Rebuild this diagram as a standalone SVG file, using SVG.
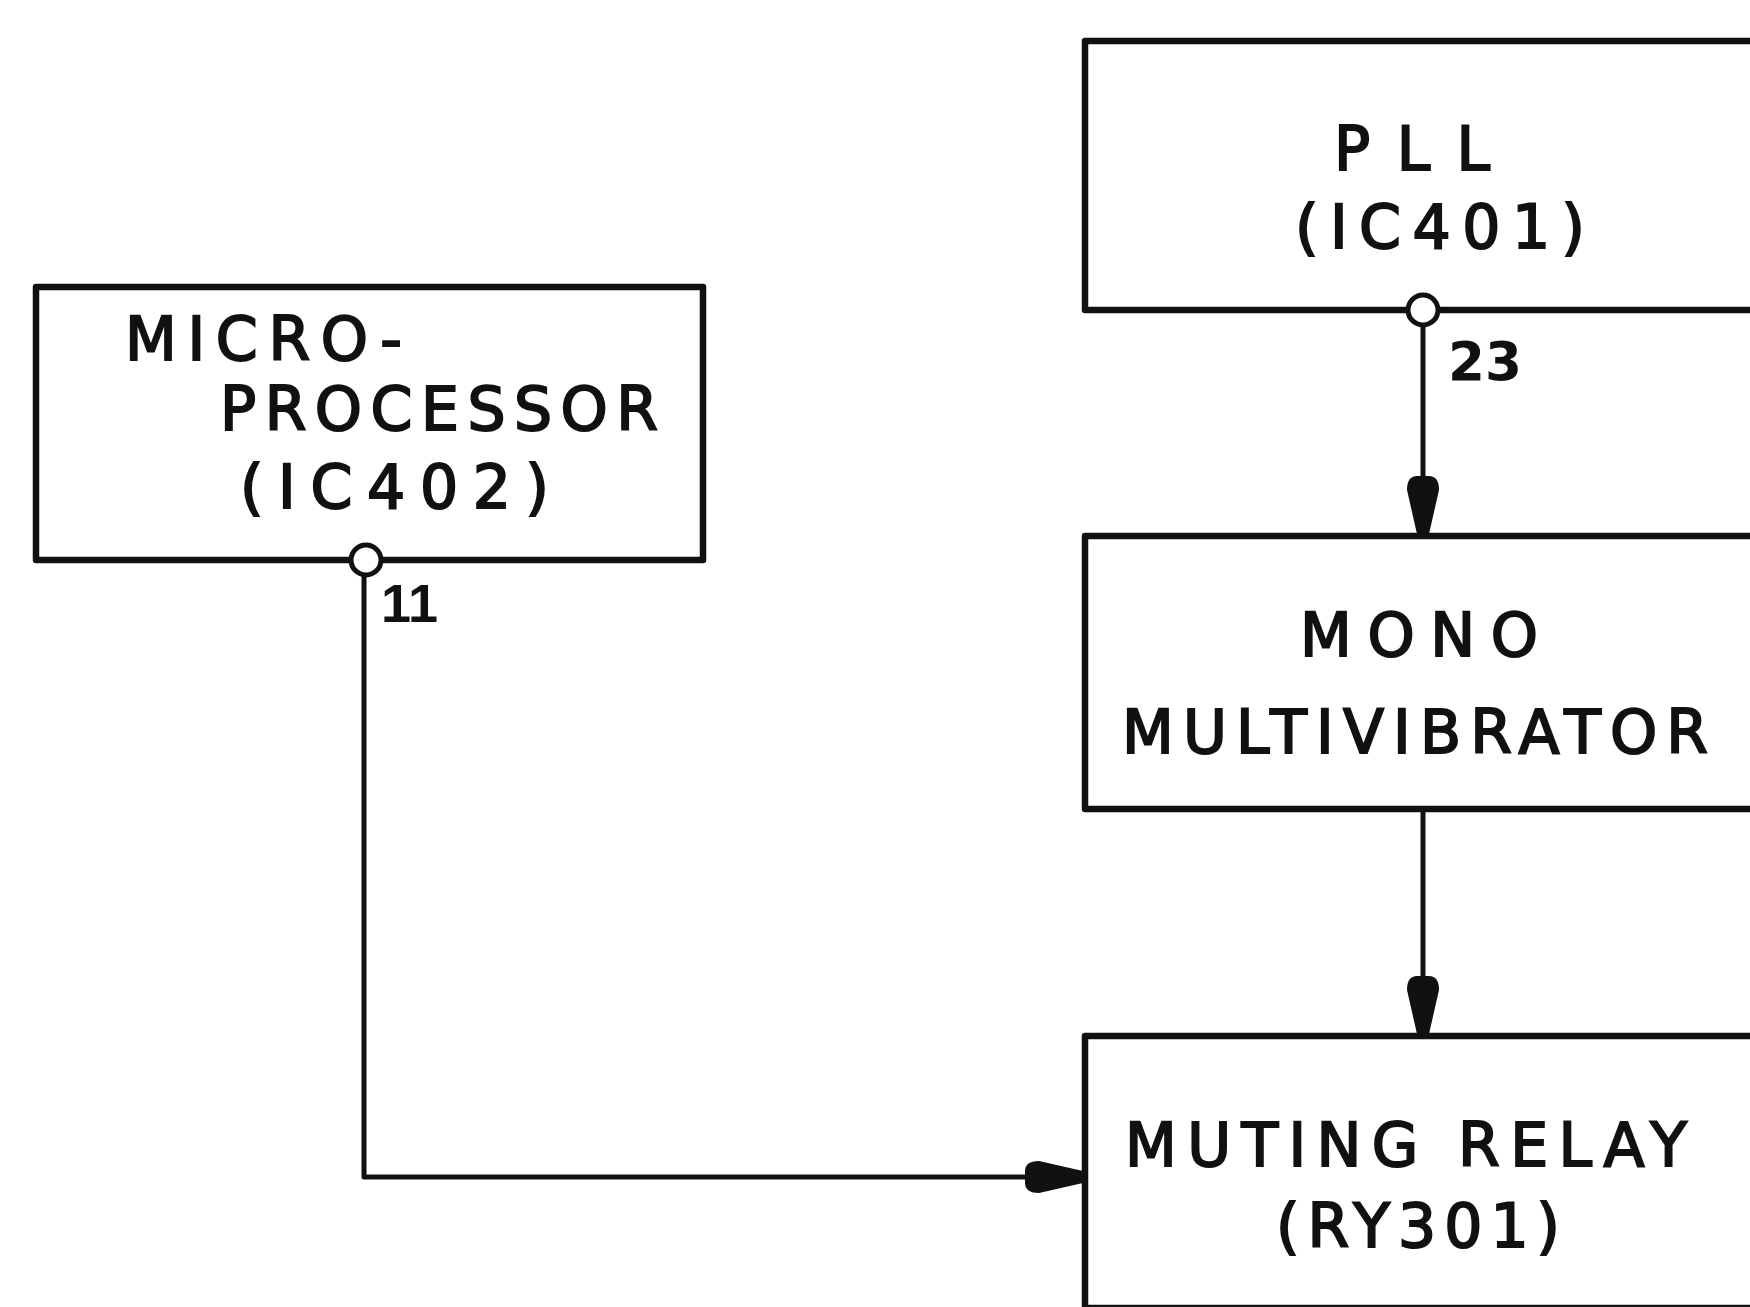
<svg xmlns="http://www.w3.org/2000/svg" width="1750" height="1307" viewBox="0 0 1750 1307">
<style>
.box{fill:#fff;stroke:#111;stroke-width:6.5;stroke-linejoin:round}
.wire{fill:none;stroke:#111;stroke-width:5;stroke-linejoin:round}
.pin{fill:#fff;stroke:#111;stroke-width:5}
.lbl{font-family:"DejaVu Sans","Liberation Sans",Arial,sans-serif;font-size:60px;fill:#111;stroke:#111;stroke-width:2}
.num{font-family:"DejaVu Sans","Liberation Sans",Arial,sans-serif;font-size:54px;font-weight:bold;fill:#111}
.pinno{font-family:"Liberation Sans",Arial,sans-serif;font-size:54px;font-weight:bold;fill:#111}
</style>
<defs>
<marker id="arr" markerUnits="userSpaceOnUse" viewBox="-60 -20 62 40" refX="0" refY="0" markerWidth="62" markerHeight="40" orient="auto" overflow="visible">
<path d="M 0,-6 L -44,-16 Q -58,-16 -58,-6 L -58,6 Q -58,16 -44,16 L 0,6 Z" fill="#111"/>
</marker>
</defs>
<rect width="1750" height="1307" fill="#fff"/>
<g id="connectors">
<path class="wire" d="M 364,575 L 364,1177 L 1083,1177" marker-end="url(#arr)"/>
<path class="wire" d="M 1423,325 L 1423,534" marker-end="url(#arr)"/>
<path class="wire" d="M 1423,809 L 1423,1034" marker-end="url(#arr)"/>
</g>
<g id="microprocessor">
<rect class="box" x="36" y="287" width="667" height="273"/>
<text class="lbl" x="125" y="360" textLength="277" lengthAdjust="spacing">MICRO-</text>
<text class="lbl" x="220" y="430" textLength="438" lengthAdjust="spacing">PROCESSOR</text>
<text class="lbl" x="240" y="508" textLength="309" lengthAdjust="spacing">(IC402)</text>
<circle class="pin" cx="366" cy="560" r="15"/>
<text class="pinno" x="381 408" y="622">11</text>
</g>
<g id="pll">
<rect class="box" x="1085" y="41" width="700" height="269"/>
<text class="lbl" x="1334" y="170" textLength="156" lengthAdjust="spacing">PLL</text>
<text class="lbl" x="1295" y="248" textLength="290" lengthAdjust="spacing">(IC401)</text>
<circle class="pin" cx="1423" cy="310" r="15"/>
<text class="num" x="1448" y="380" textLength="74" lengthAdjust="spacingAndGlyphs">23</text>
</g>
<g id="mono">
<rect class="box" x="1085" y="536" width="700" height="273"/>
<text class="lbl" x="1300" y="656" textLength="238" lengthAdjust="spacing">MONO</text>
<text class="lbl" x="1122" y="753" textLength="586" lengthAdjust="spacing">MULTIVIBRATOR</text>
</g>
<g id="muting-relay">
<rect class="box" x="1085" y="1036" width="700" height="272"/>
<text class="lbl" x="1125" y="1166" textLength="562" lengthAdjust="spacing">MUTING RELAY</text>
<text class="lbl" x="1276" y="1247" textLength="284" lengthAdjust="spacing">(RY301)</text>
</g>
</svg>
